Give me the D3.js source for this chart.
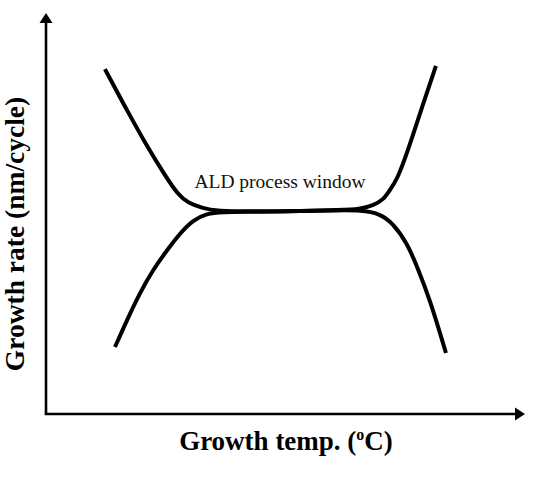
<!DOCTYPE html>
<html><head><meta charset="utf-8">
<script src="https://cdn.jsdelivr.net/npm/d3@7"></script>
<style>html,body{margin:0;padding:0;background:#fff;}</style>
</head><body>
<script>
// Schematic data (arbitrary units, 0-100 on both axes)
const upperTemp = [12.3, 17.1, 21.3, 24.8, 27.6, 29.7, 32.6, 35.3, 44.7, 53.0, 61.4, 65.6, 68.3, 70.4, 71.8, 73.3, 75.6, 78.3, 81.4];
const upperRate = [86.0, 75.3, 66.3, 59.6, 54.6, 52.6, 51.4, 50.6, 50.5, 50.6, 50.9, 51.1, 52.0, 53.4, 55.9, 58.4, 65.8, 75.8, 86.8];
const lowerTemp = [14.4, 16.9, 19.6, 22.3, 25.3, 28.0, 30.7, 33.6, 36.3, 44.7, 53.0, 61.4, 65.6, 69.7, 72.4, 75.4, 77.5, 80.2, 83.5];
const lowerRate = [16.7, 23.4, 30.2, 35.9, 40.9, 45.1, 48.4, 50.0, 50.4, 50.4, 50.6, 50.8, 50.8, 50.0, 47.6, 42.6, 36.7, 28.4, 15.2];
const xLabel = "Growth temp. (";
const yLabel = "Growth rate (nm/cycle)";
const windowLabel = "ALD process window";

const W = 538, H = 478;
const svg = d3.select("body").append("svg").attr("width", W).attr("height", H)
  .style("font-family", "'Liberation Serif','Times New Roman',serif");

const x = d3.scaleLinear().domain([0, 100]).range([46, 525]);
const y = d3.scaleLinear().domain([0, 100]).range([414, 13]);

// axes with arrowheads
svg.append("line").attr("x1", x(0)).attr("y1", y(0)).attr("x2", x(0)).attr("y2", y(100) + 8)
  .attr("stroke", "#000").attr("stroke-width", 2.6);
svg.append("line").attr("x1", x(0) - 1.3).attr("y1", y(0)).attr("x2", x(100) - 8).attr("y2", y(0))
  .attr("stroke", "#000").attr("stroke-width", 2.6);
svg.append("path").attr("d", `M${x(0)},${y(100)} L${x(0)-6.5},${y(100)+10} L${x(0)+6.5},${y(100)+10} Z`).attr("fill", "#000");
svg.append("path").attr("d", `M${x(100)},${y(0)} L${x(100)-10},${y(0)-6.5} L${x(100)-10},${y(0)+6.5} Z`).attr("fill", "#000");

const line = d3.line().x(d => x(d[0])).y(d => y(d[1])).curve(d3.curveBasis);
svg.append("path").datum(d3.zip(upperTemp, upperRate)).attr("d", line)
  .attr("fill", "none").attr("stroke", "#000").attr("stroke-width", 4).attr("stroke-linecap", "butt");
svg.append("path").datum(d3.zip(lowerTemp, lowerRate)).attr("d", line)
  .attr("fill", "none").attr("stroke", "#000").attr("stroke-width", 4).attr("stroke-linecap", "butt");

svg.append("text").attr("x", 280).attr("y", 188).attr("text-anchor", "middle")
  .attr("font-size", 19.5).attr("fill", "#111").text(windowLabel);

const xl = svg.append("text").attr("x", 286).attr("y", 450).attr("text-anchor", "middle")
  .attr("font-size", 27).attr("font-weight", "bold").attr("fill", "#000");
xl.append("tspan").text(xLabel);
xl.append("tspan").attr("font-size", 16).attr("dy", -10).text("o");
xl.append("tspan").attr("dy", 10).text("C)");

svg.append("text").attr("transform", "translate(24,234) rotate(-90)").attr("text-anchor", "middle")
  .attr("font-size", 27.5).attr("font-weight", "bold").attr("fill", "#000").text(yLabel);
</script>
</body></html>
